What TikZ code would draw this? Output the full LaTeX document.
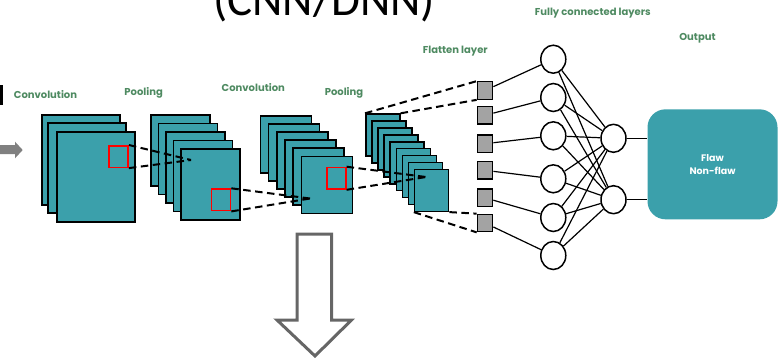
\documentclass[tikz,border=0pt]{standalone}
\usepackage{fontspec}
\usepackage{tikz}
\usetikzlibrary{shapes.geometric}

\newfontfamily\titlefont{Carlito}
\newfontfamily\labelfont{Poppins}
\definecolor{mapteal}{HTML}{3BA0AB}
\definecolor{labelgreen}{HTML}{4E8A61}
\definecolor{flatgray}{HTML}{A3A3A3}
\definecolor{arrowgray}{HTML}{666666}

\begin{document}
\begin{tikzpicture}[x=1pt,y=-1pt,
    fmap/.style={draw, fill=mapteal, line width=1.6pt, inner sep=0pt, anchor=north west},
    window/.style={draw=red, line width=1.6pt, inner sep=0pt, anchor=north west,
                   minimum width=19pt, minimum height=21.5pt},
    flat/.style={draw, fill=flatgray, line width=1.2pt, inner sep=0pt,
                 minimum width=15.5pt, minimum height=17.5pt},
    neuron/.style={ellipse, draw, fill=white, line width=1.5pt, inner sep=0pt,
                   minimum width=25pt, minimum height=28pt},
    layername/.style={text=labelgreen, font=\labelfont\bfseries\fontsize{10}{12}\selectfont},
    proj/.style={dash pattern=on 7.5pt off 4.5pt, line width=2pt},
    conn/.style={line width=1.2pt}]
    \useasboundingbox (0,0) rectangle (779,357);

    \node[anchor=base west, inner sep=0pt, font=\titlefont\fontsize{47}{50}\selectfont]
        (title) at (213,15.5) {(CNN/DNN)};
    \fill (0,85) rectangle (3,105);
    \fill[gray] (0,145) -- (15,145) -- (15,141.7) -- (22.7,150) -- (15,158.3)
        -- (15,154) -- (0,154) -- cycle;

    \node[layername] (lconv1) at (45.5,95)   {Convolution};
    \node[layername] (lpool1) at (143.7,93.3) {Pooling};
    \node[layername] (lconv2) at (253.3,87.3) {Convolution};
    \node[layername] (lpool2) at (344,93.3)   {Pooling};
    \node[layername] (lflat)  at (455.3,50.7) {Flatten layer};
    \node[layername] (lfc)    at (592.8,12.7) {Fully connected layers};
    \node[layername] (lout)   at (697.5,38.3) {Output};

    % feature map stacks, back to front
    \foreach \i/\x/\y in {1/41/114, 2/47/122, 3/56/131}
        \node[fmap, minimum width=78pt, minimum height=90pt] (conv1-\i) at (\x,\y) {};
    \foreach \i in {1,...,5}
        \node[fmap, minimum width=59pt, minimum height=71pt] (pool1-\i)
            at ({150+7.6*(\i-1)},{114+8.6*(\i-1)}) {};
    \foreach \i in {1,...,6}
        \node[fmap, minimum width=51pt, minimum height=57pt] (conv2-\i)
            at ({259.5+8.2*(\i-1)},{115+8.1*(\i-1)}) {};
    \foreach \i in {1,...,9}
        \node[fmap, minimum width=34pt, minimum height=42pt] (pool2-\i)
            at ({365+6.1*(\i-1)},{113.3+6.9*(\i-1)}) {};

    \node[window] (win1) at (108.3,145)   {};
    \node[window] (win2) at (210.7,188.3) {};
    \node[window] (win3) at (326,166.7)   {};

    \coordinate (p1) at (191,160);
    \coordinate (p2) at (310,198.5);
    \coordinate (p3) at (426,177);

    \node[flat] (flat1) at (485,90.5)  {};
    \node[flat] (flat2) at (485,115.3) {};
    \node[flat] (flat3) at (485,143.7) {};
    \node[flat] (flat4) at (485,170.3) {};
    \node[flat] (flat5) at (485,197.8) {};
    \node[flat] (flat6) at (485,223)   {};

    \draw[proj] (win1.north east) -- (p1) (win1.south east) -- (p1);
    \draw[proj] (win2.north east) -- (p2) (win2.south east) -- (p2);
    \draw[proj] (win3.north east) -- (p3) (win3.south east) -- (p3);
    \draw[proj] (pool2-1.north west) -- (flat1.north west)
                (pool2-1.north east) -- (flat1.south west);
    \draw[proj] (pool2-9.south east) -- (flat6.north west)
                (pool2-9.south west) -- (flat6.south west);

    \node[neuron] (hid1) at (553.3,59.2)  {};
    \node[neuron] (hid2) at (553.3,97.5)  {};
    \node[neuron] (hid3) at (553.3,135.8) {};
    \node[neuron] (hid4) at (553.3,178.8) {};
    \node[neuron] (hid5) at (553.3,217.5) {};
    \node[neuron] (hid6) at (553.3,255.5) {};
    \node[neuron] (out1) at (613.5,138.3) {};
    \node[neuron] (out2) at (613.5,199.7) {};

    \node[fill=mapteal, rounded corners=18pt, minimum width=130pt, minimum height=110pt,
          text=white, align=center, font=\labelfont\bfseries\fontsize{9.5}{13.5}\selectfont]
        (res) at (712.5,164.3) {Flaw\\Non-flaw};

    \path[conn]
        (flat1) edge (hid1)
        (flat2) edge (hid2)
        (flat3) edge (hid3)
        (flat4) edge (hid4)
        (flat5) edge (hid5)
        (flat6) edge (hid6)
        (out1) edge (out1 -| res.west)
        (out2) edge (out2 -| res.west);
    \foreach \i in {1,...,6}
        \path[conn] (hid\i) edge (out1) edge (out2);

    \draw[draw=arrowgray, fill=white, line width=3pt, line join=miter]
        (297,234) -- (331.5,234) -- (331.5,320) -- (351.5,320) -- (315,356)
        -- (277,320) -- (297,320) -- cycle;
\end{tikzpicture}
\end{document}
